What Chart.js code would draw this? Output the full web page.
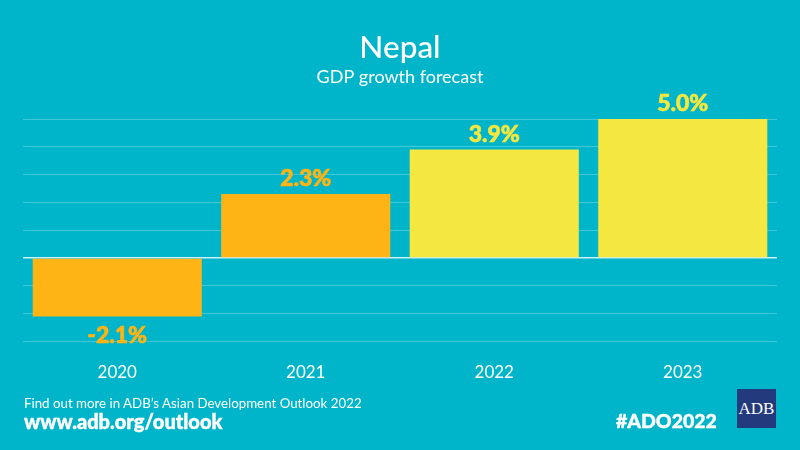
<!DOCTYPE html>
<html>
<head>
<meta charset="utf-8">
<title>Nepal GDP growth forecast</title>
<script src="https://cdn.jsdelivr.net/npm/chart.js@4/dist/chart.umd.min.js"></script>
<style>
    html, body { margin: 0; padding: 0; }
    body { width: 800px; height: 450px; background: #00b5ca; overflow: hidden; position: relative; font-family: Lato, sans-serif; color: #fff; }
    #chartBox { position: absolute; left: 0; top: 0; width: 800px; height: 450px; }
    .foot { position: absolute; white-space: nowrap; line-height: 1; }
    #findOut { left: 24px; top: 397px; font-size: 13.3px; }
    #site { left: 24px; top: 411px; font-size: 20px; font-weight: 900; -webkit-text-stroke: 0.4px #fff; }
    #tag { left: 616px; top: 411px; font-size: 19.5px; font-weight: 900; -webkit-text-stroke: 0.4px #fff; }
    #logo { position: absolute; left: 737px; top: 389px; width: 39px; height: 39px; background: #233a7c; font: 17px/39px "Liberation Serif", serif; text-align: center; }
</style>
</head>
<body>
<div id="chartBox"><canvas id="gdpChart" width="800" height="450"></canvas></div>
<div class="foot" id="findOut">Find out more in ADB’s Asian Development Outlook 2022</div>
<div class="foot" id="site">www.adb.org/outlook</div>
<div class="foot" id="tag">#ADO2022</div>
<div id="logo">ADB</div>
<script>
// Values
const years = ['2020', '2021', '2022', '2023'];
const growth = [-2.1, 2.3, 3.9, 5.0];
const labels = ['-2.1%', '2.3%', '3.9%', '5.0%'];
const barColors = ['#feb415', '#feb415', '#f3e740', '#f3e740'];
const labelColors = ['#feb415', '#feb415', '#f3e740', '#f3e740'];

// Draw the value above each bar (below it if negative)
const valueLabels = {
    id: 'valueLabels',
    afterDatasetsDraw(chart) {
        const ctx = chart.ctx;
        const bars = chart.getDatasetMeta(0).data;
        ctx.save();
        ctx.font = '900 23px Lato';
        ctx.textAlign = 'center';
        ctx.textBaseline = 'middle';
        ctx.lineWidth = 0.6;
        bars.forEach((bar, i) => {
            ctx.fillStyle = labelColors[i];
            ctx.strokeStyle = labelColors[i];
            const offset = growth[i] < 0 ? 19 : -15.5;
            ctx.fillText(labels[i], bar.x, bar.y + offset);
            ctx.strokeText(labels[i], bar.x, bar.y + offset);
        });
        ctx.restore();
    }
};

new Chart(document.getElementById('gdpChart'), {
    type: 'bar',
    data: {
        labels: years,
        datasets: [{
            data: growth,
            backgroundColor: barColors,
            barPercentage: 0.897,
            categoryPercentage: 1
        }]
    },
    options: {
        responsive: false,
        animation: false,
        layout: { padding: { left: 23, right: 23, top: 0, bottom: 58.5 } },
        plugins: {
            legend: { display: false },
            tooltip: { enabled: false },
            title: {
                display: true,
                text: 'Nepal',
                color: '#fff',
                font: { family: 'Lato', size: 31.5, weight: '500' },
                padding: { top: 29, bottom: 0 }
            },
            subtitle: {
                display: true,
                text: 'GDP growth forecast',
                color: '#fff',
                font: { family: 'Lato', size: 18, weight: '400' },
                padding: { top: 0, bottom: 30.6 }
            }
        },
        scales: {
            x: {
                grid: { display: false },
                border: { display: false },
                afterFit: scale => { scale.height = 50; },
                ticks: { color: '#fff', font: { family: 'Lato', size: 17 }, padding: 13, maxRotation: 0 }
            },
            y: {
                min: -3,
                max: 5,
                afterFit: scale => { scale.width = 0; },
                border: { display: false },
                grid: {
                    drawTicks: false,
                    color: ctx => ctx.tick.value === 0 ? 'rgba(255,255,255,0.8)' : 'rgba(255,255,255,0.25)',
                    lineWidth: ctx => ctx.tick.value === 0 ? 1.5 : 1
                },
                ticks: { display: false, stepSize: 1 }
            }
        }
    },
    plugins: [valueLabels]
});
</script>
</body>
</html>
